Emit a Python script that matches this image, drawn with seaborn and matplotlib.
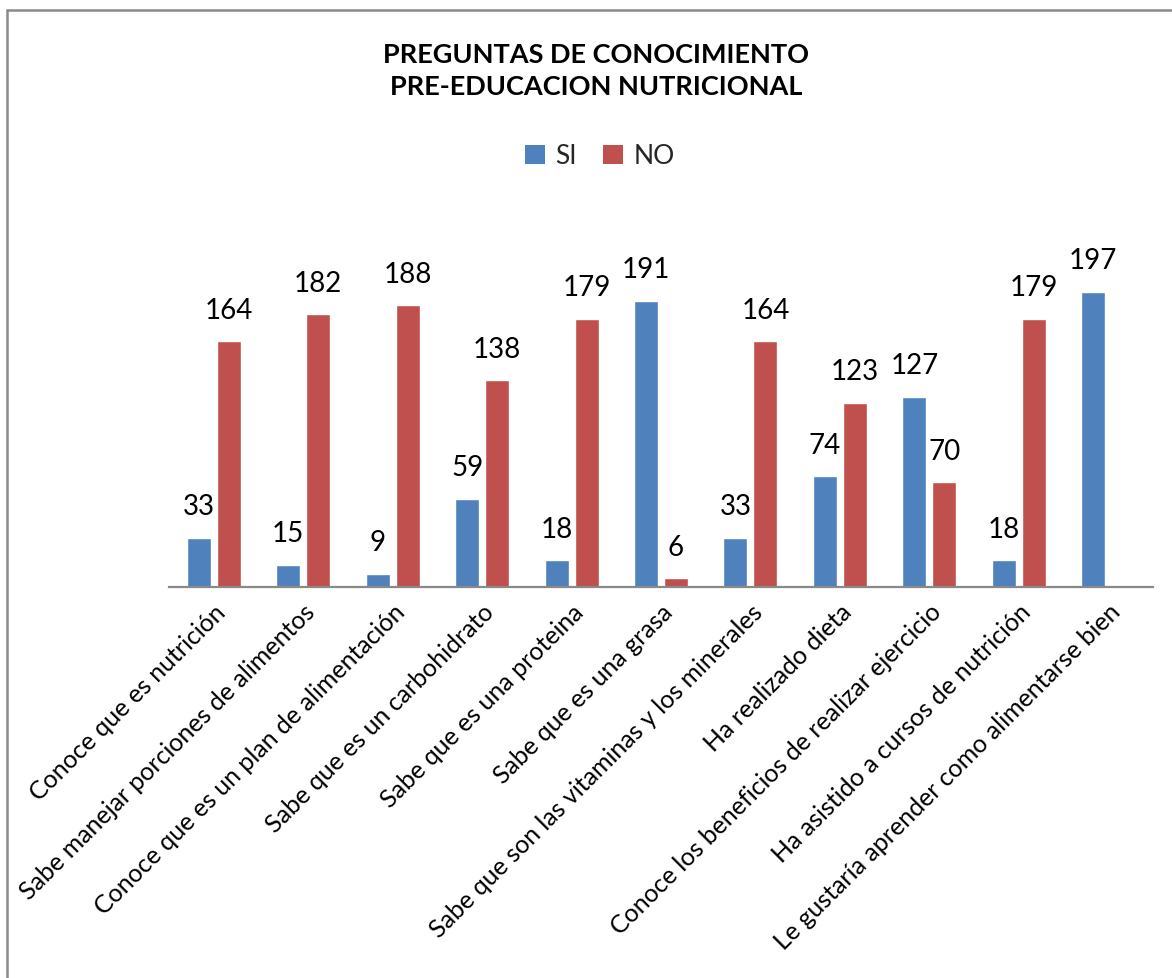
import matplotlib
matplotlib.use("Agg")
import matplotlib.pyplot as plt
import seaborn as sns
import pandas as pd
from matplotlib.lines import Line2D
from matplotlib.patches import Patch

categories = [
    "Conoce que es nutrición",
    "Sabe manejar porciones de alimentos",
    "Conoce que es un plan de alimentación",
    "Sabe que es un carbohidrato",
    "Sabe que es una proteina",
    "Sabe que es una grasa",
    "Sabe que son las vitaminas y los minerales",
    "Ha realizado dieta",
    "Conoce los beneficios de realizar ejercicio",
    "Ha asistido a cursos de nutrición",
    "Le gustaría aprender como alimentarse bien",
]
si_values = [33, 15, 9, 59, 18, 191, 33, 74, 127, 18, 197]
no_values = [164, 182, 188, 138, 179, 6, 164, 123, 70, 179, 0]
series = ["SI", "NO"]
colors = ["#4F81BD", "#C0504D"]
title = "PREGUNTAS DE CONOCIMIENTO\nPRE-EDUCACION NUTRICIONAL"

df = pd.DataFrame({
    "cat": categories * 2,
    "serie": ["SI"] * len(categories) + ["NO"] * len(categories),
    "valor": si_values + no_values,
})

sns.set_theme(style="white")
plt.rcParams["font.family"] = ["Lato", "DejaVu Sans"]

W, H = 1172, 979
fig = plt.figure(figsize=(W / 100, H / 100), dpi=100)
ax = fig.add_axes([169 / W, (H - 588) / H, (1153 - 169) / W, 375 / H])

sns.barplot(data=df, x="cat", y="valor", hue="serie", hue_order=series,
            palette=colors, width=0.67, gap=0.2, saturation=1,
            ax=ax, legend=False, errorbar=None)

ax.set_xlim(-0.5, len(categories) - 0.5)
ax.set_ylim(0, 250)
ax.set_xlabel("")
ax.set_ylabel("")
ax.set_yticks([])
for s in ["top", "right", "left"]:
    ax.spines[s].set_visible(False)
ax.spines["bottom"].set_color("#898989")
ax.spines["bottom"].set_linewidth(1.6)
ax.tick_params(axis="x", length=0, pad=9)
ax.set_xticks(range(len(categories)))
ax.set_xticklabels(categories, rotation=45, ha="right", va="top",
                   rotation_mode="anchor", fontsize=18, color="black")

for container in ax.containers:
    labels = [f"{int(v)}" if v > 0 else "" for v in container.datavalues]
    ax.bar_label(container, labels=labels, padding=13, fontsize=20, color="black")

fig.text(596 / W, 1 - 71 / H, title, ha="center", va="center",
         fontsize=19.5, fontweight="bold", linespacing=1.42, color="black")

handles = [Patch(facecolor=c, edgecolor="none") for c in colors]
fig.legend(handles, series, loc="center", bbox_to_anchor=(600 / W, 1 - 157 / H),
           ncol=2, frameon=False, fontsize=19, handlelength=0.75, handleheight=0.75,
           handletextpad=0.4, columnspacing=1.0)

# outer chart border (top and left visible)
fig.add_artist(Line2D([7 / W, 1.0], [1 - 11 / H, 1 - 11 / H],
                      transform=fig.transFigure, color="#8a8a8a", lw=1.8))
fig.add_artist(Line2D([7 / W, 7 / W], [0.0, 1 - 11 / H],
                      transform=fig.transFigure, color="#8a8a8a", lw=1.8))

fig.savefig("out.png", dpi=100, facecolor="white")
